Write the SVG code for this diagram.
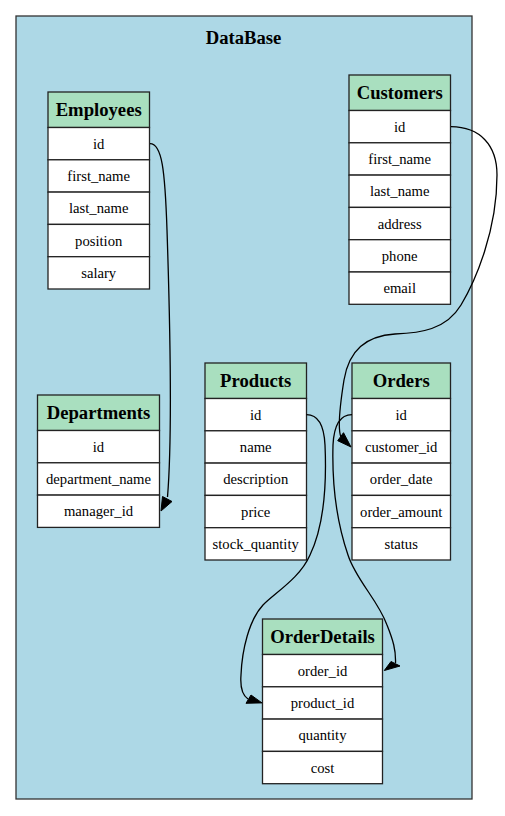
<svg xmlns="http://www.w3.org/2000/svg" width="505" height="816" viewBox="0 0 505 816">
<style>
.hd{fill:#a9dfbf;stroke:#222;stroke-width:1.3}
.cell{fill:#ffffff;stroke:#222;stroke-width:1.3}
text{font-family:'Liberation Serif','DejaVu Serif',serif;fill:#000;text-anchor:middle}
.ht{font-size:18.67px;font-weight:bold}
.ft{font-size:14.67px}
.edge{fill:none;stroke:#000;stroke-width:1.3}
.ah{fill:#000;stroke:#000;stroke-width:1}
</style>
<rect width="505" height="816" fill="#ffffff"/>
<g id="cluster_DataBase">
<rect x="16" y="16" width="456" height="783" fill="#add8e6" stroke="#333" stroke-width="1.3"/>
<text class="ht" x="243.5" y="44" font-family="Liberation Serif, DejaVu Serif, serif">DataBase</text>
</g>
<g id="Employees" font-family="Liberation Serif, DejaVu Serif, serif">
<rect class="hd" x="48" y="92" width="101.5" height="35.5"/>
<text class="ht" x="98.7" y="116">Employees</text>
<rect class="cell" x="48" y="127.5" width="101.5" height="32.3"/>
<text class="ft" x="98.7" y="148.6">id</text>
<rect class="cell" x="48" y="159.8" width="101.5" height="32.3"/>
<text class="ft" x="98.7" y="180.9">first_name</text>
<rect class="cell" x="48" y="192.1" width="101.5" height="32.3"/>
<text class="ft" x="98.7" y="213.2">last_name</text>
<rect class="cell" x="48" y="224.4" width="101.5" height="32.3"/>
<text class="ft" x="98.7" y="245.5">position</text>
<rect class="cell" x="48" y="256.7" width="101.5" height="32.3"/>
<text class="ft" x="98.7" y="277.8">salary</text>
</g>
<g id="Customers">
<rect class="hd" x="349" y="75" width="101.5" height="35.5"/>
<text class="ht" x="399.7" y="99">Customers</text>
<rect class="cell" x="349" y="110.5" width="101.5" height="32.3"/>
<text class="ft" x="399.7" y="131.6">id</text>
<rect class="cell" x="349" y="142.8" width="101.5" height="32.3"/>
<text class="ft" x="399.7" y="163.9">first_name</text>
<rect class="cell" x="349" y="175.1" width="101.5" height="32.3"/>
<text class="ft" x="399.7" y="196.2">last_name</text>
<rect class="cell" x="349" y="207.4" width="101.5" height="32.3"/>
<text class="ft" x="399.7" y="228.5">address</text>
<rect class="cell" x="349" y="239.7" width="101.5" height="32.3"/>
<text class="ft" x="399.7" y="260.8">phone</text>
<rect class="cell" x="349" y="272" width="101.5" height="32.3"/>
<text class="ft" x="399.7" y="293.1">email</text>
</g>
<g id="Departments">
<rect class="hd" x="37.5" y="395" width="122" height="35.5"/>
<text class="ht" x="98.5" y="419">Departments</text>
<rect class="cell" x="37.5" y="430.5" width="122" height="32.3"/>
<text class="ft" x="98.5" y="451.6">id</text>
<rect class="cell" x="37.5" y="462.8" width="122" height="32.3"/>
<text class="ft" x="98.5" y="483.9">department_name</text>
<rect class="cell" x="37.5" y="495.1" width="122" height="32.3"/>
<text class="ft" x="98.5" y="516.2">manager_id</text>
</g>
<g id="Products">
<rect class="hd" x="205" y="363" width="101.5" height="35.5"/>
<text class="ht" x="255.7" y="387">Products</text>
<rect class="cell" x="205" y="398.5" width="101.5" height="32.3"/>
<text class="ft" x="255.7" y="419.6">id</text>
<rect class="cell" x="205" y="430.8" width="101.5" height="32.3"/>
<text class="ft" x="255.7" y="451.9">name</text>
<rect class="cell" x="205" y="463.1" width="101.5" height="32.3"/>
<text class="ft" x="255.7" y="484.2">description</text>
<rect class="cell" x="205" y="495.4" width="101.5" height="32.3"/>
<text class="ft" x="255.7" y="516.5">price</text>
<rect class="cell" x="205" y="527.7" width="101.5" height="32.3"/>
<text class="ft" x="255.7" y="548.8">stock_quantity</text>
</g>
<g id="Orders">
<rect class="hd" x="352" y="363" width="98.5" height="35.5"/>
<text class="ht" x="401.2" y="387">Orders</text>
<rect class="cell" x="352" y="398.5" width="98.5" height="32.3"/>
<text class="ft" x="401.2" y="419.6">id</text>
<rect class="cell" x="352" y="430.8" width="98.5" height="32.3"/>
<text class="ft" x="401.2" y="451.9">customer_id</text>
<rect class="cell" x="352" y="463.1" width="98.5" height="32.3"/>
<text class="ft" x="401.2" y="484.2">order_date</text>
<rect class="cell" x="352" y="495.4" width="98.5" height="32.3"/>
<text class="ft" x="401.2" y="516.5">order_amount</text>
<rect class="cell" x="352" y="527.7" width="98.5" height="32.3"/>
<text class="ft" x="401.2" y="548.8">status</text>
</g>
<g id="OrderDetails">
<rect class="hd" x="262.5" y="619" width="120" height="35.5"/>
<text class="ht" x="322.5" y="643">OrderDetails</text>
<rect class="cell" x="262.5" y="654.5" width="120" height="32.3"/>
<text class="ft" x="322.5" y="675.6">order_id</text>
<rect class="cell" x="262.5" y="686.8" width="120" height="32.3"/>
<text class="ft" x="322.5" y="707.9">product_id</text>
<rect class="cell" x="262.5" y="719.1" width="120" height="32.3"/>
<text class="ft" x="322.5" y="740.2">quantity</text>
<rect class="cell" x="262.5" y="751.4" width="120" height="32.3"/>
<text class="ft" x="322.5" y="772.5">cost</text>
</g>
<g id="edges">
<path class="edge" d="M150,143.6 C162,143.6 165,170 167,230 C170,320 173,430 167.5,497"/>
<polygon class="ah" points="161,511 162.5,496.5 172,501.5"/>
<path class="edge" d="M451,126.7 C480,127 497,145 497,175 C497,230 476,280 461,305 C446,330 420,333 395,334 C366,336 349,350 344,380 C340,405 337,428 341,437"/>
<polygon class="ah" points="351,447 337.7,440.7 343.5,432.7"/>
<path class="edge" d="M352,414.7 C340,414.7 334,425 333,445 C332,480 336,520 348,555 C356,580 378,600 387,625 C393,640 396,650 395.5,663"/>
<polygon class="ah" points="384.3,670.5 391,661.5 400,666"/>
<path class="edge" d="M306.5,414.7 C318,414.7 324,425 325,445 C327,490 322,530 310,555 C300,578 276,592 263,605 C249,620 242,650 241,675 C240,688 242,695 248,699"/>
<polygon class="ah" points="262,702.9 246,703.3 251,695"/>
</g>
</svg>
